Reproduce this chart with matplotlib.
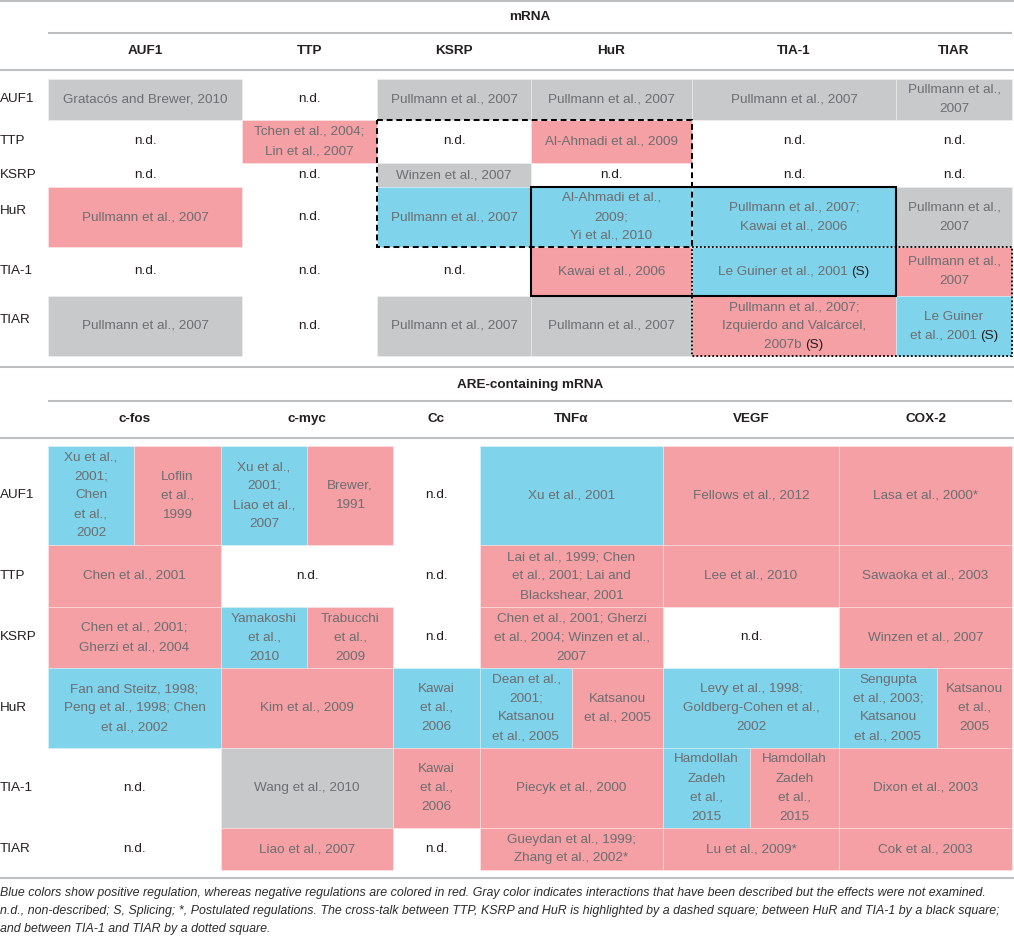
import matplotlib
matplotlib.use('Agg')
import matplotlib.pyplot as plt
from matplotlib.patches import Rectangle

plt.rcParams['font.family'] = ['Liberation Sans', 'DejaVu Sans']

# B = positive regulation, R = negative, G = described but not examined, N = non-described
FILLS = {'B': '#7fd3ea', 'R': '#f5a0a4', 'G': '#c8c9cb', 'N': None}

rbps = ['AUF1', 'TTP', 'KSRP', 'HuR', 'TIA-1', 'TIAR']

# ---- mRNA section ----
mrna_title = 'mRNA'
mrna_cols = ['AUF1', 'TTP', 'KSRP', 'HuR', 'TIA-1', 'TIAR']
mrna_cells = [
    [('Gratacós and Brewer, 2010', 'G'), ('n.d.', 'N'), ('Pullmann et al., 2007', 'G'),
     ('Pullmann et al., 2007', 'G'), ('Pullmann et al., 2007', 'G'), ('Pullmann et al.,\n2007', 'G')],
    [('n.d.', 'N'), ('Tchen et al., 2004;\nLin et al., 2007', 'R'), ('n.d.', 'N'),
     ('Al-Ahmadi et al., 2009', 'R'), ('n.d.', 'N'), ('n.d.', 'N')],
    [('n.d.', 'N'), ('n.d.', 'N'), ('Winzen et al., 2007', 'G'),
     ('n.d.', 'N'), ('n.d.', 'N'), ('n.d.', 'N')],
    [('Pullmann et al., 2007', 'R'), ('n.d.', 'N'), ('Pullmann et al., 2007', 'B'),
     ('Al-Ahmadi et al.,\n2009;\nYi et al., 2010', 'B'), ('Pullmann et al., 2007;\nKawai et al., 2006', 'B'),
     ('Pullmann et al.,\n2007', 'G')],
    [('n.d.', 'N'), ('n.d.', 'N'), ('n.d.', 'N'), ('Kawai et al., 2006', 'R'),
     ('Le Guiner et al., 2001 (S)', 'B'), ('Pullmann et al.,\n2007', 'R')],
    [('Pullmann et al., 2007', 'G'), ('n.d.', 'N'), ('Pullmann et al., 2007', 'G'),
     ('Pullmann et al., 2007', 'G'), ('Pullmann et al., 2007;\nIzquierdo and Valcárcel,\n2007b (S)', 'R'),
     ('Le Guiner\net al., 2001 (S)', 'B')],
]
# highlighted cross-talk squares: (first col, end col, first row, end row, kind)
mrna_boxes = [(3, 5, 3, 5, 'solid'), (2, 4, 1, 4, 'dashed'), (4, 6, 4, 6, 'dotted')]

# ---- ARE-containing mRNA section ----
are_title = 'ARE-containing mRNA'
are_cols = ['c-fos', 'c-myc', 'Cc', 'TNFα', 'VEGF', 'COX-2']
are_col_span = [(0, 2), (2, 4), (4, 5), (5, 7), (7, 9), (9, 11)]
# (first sub-column, end sub-column, text, code)
are_cells = [
    [(0, 1, 'Xu et al.,\n2001;\nChen\net al.,\n2002', 'B'), (1, 2, 'Loflin\net al.,\n1999', 'R'),
     (2, 3, 'Xu et al.,\n2001;\nLiao et al.,\n2007', 'B'), (3, 4, 'Brewer,\n1991', 'R'),
     (4, 5, 'n.d.', 'N'), (5, 7, 'Xu et al., 2001', 'B'), (7, 9, 'Fellows et al., 2012', 'R'),
     (9, 11, 'Lasa et al., 2000*', 'R')],
    [(0, 2, 'Chen et al., 2001', 'R'), (2, 4, 'n.d.', 'N'), (4, 5, 'n.d.', 'N'),
     (5, 7, 'Lai et al., 1999; Chen\net al., 2001; Lai and\nBlackshear, 2001', 'R'),
     (7, 9, 'Lee et al., 2010', 'R'), (9, 11, 'Sawaoka et al., 2003', 'R')],
    [(0, 2, 'Chen et al., 2001;\nGherzi et al., 2004', 'R'), (2, 3, 'Yamakoshi\net al.,\n2010', 'B'),
     (3, 4, 'Trabucchi\net al.,\n2009', 'R'), (4, 5, 'n.d.', 'N'),
     (5, 7, 'Chen et al., 2001; Gherzi\net al., 2004; Winzen et al.,\n2007', 'R'),
     (7, 9, 'n.d.', 'N'), (9, 11, 'Winzen et al., 2007', 'R')],
    [(0, 2, 'Fan and Steitz, 1998;\nPeng et al., 1998; Chen\net al., 2002', 'B'),
     (2, 4, 'Kim et al., 2009', 'R'), (4, 5, 'Kawai\net al.,\n2006', 'B'),
     (5, 6, 'Dean et al.,\n2001;\nKatsanou\net al., 2005', 'B'), (6, 7, 'Katsanou\net al., 2005', 'R'),
     (7, 9, 'Levy et al., 1998;\nGoldberg-Cohen et al.,\n2002', 'B'),
     (9, 10, 'Sengupta\net al., 2003;\nKatsanou\net al., 2005', 'B'), (10, 11, 'Katsanou\net al.,\n2005', 'R')],
    [(0, 2, 'n.d.', 'N'), (2, 4, 'Wang et al., 2010', 'G'), (4, 5, 'Kawai\net al.,\n2006', 'R'),
     (5, 7, 'Piecyk et al., 2000', 'R'), (7, 8, 'Hamdollah\nZadeh\net al.,\n2015', 'B'),
     (8, 9, 'Hamdollah\nZadeh\net al.,\n2015', 'R'), (9, 11, 'Dixon et al., 2003', 'R')],
    [(0, 2, 'n.d.', 'N'), (2, 4, 'Liao et al., 2007', 'R'), (4, 5, 'n.d.', 'N'),
     (5, 7, 'Gueydan et al., 1999;\nZhang et al., 2002*', 'R'), (7, 9, 'Lu et al., 2009*', 'R'),
     (9, 11, 'Cok et al., 2003', 'R')],
]

footnote = [
    'Blue colors show positive regulation, whereas negative regulations are colored in red. '
    'Gray color indicates interactions that have been described but the effects were not examined.',
    'n.d., non-described; S, Splicing; *, Postulated regulations. The cross-talk between TTP, KSRP and HuR '
    'is highlighted by a dashed square; between HuR and TIA-1 by a black square;',
    'and between TIA-1 and TIAR by a dotted square.',
]

# ---- layout (pixels) ----
W, H = 1014, 936
TOP_X = [48, 242, 377, 531, 692, 896, 1012]
TOP_Y = [79, 120, 163, 187, 247, 296, 356]
BOT_X = [48, 134, 221, 307, 393, 480, 572, 663, 750, 839, 937, 1012]
BOT_Y = [446, 545, 607, 668, 748, 828, 870]
LH = 19
FS = 9.7
CITE = '#6d6e71'
DARK = '#231f20'
RULE = '#bcbec0'

fig = plt.figure(figsize=(W / 100, H / 100), dpi=100)
ax = fig.add_axes([0, 0, 1, 1])
ax.set_xlim(0, W)
ax.set_ylim(H, 0)
ax.axis('off')
renderer = fig.canvas.get_renderer()


def cell_text(cx, cy, text, color):
    lines = text.split('\n')
    n = len(lines)
    for i, line in enumerate(lines):
        y = cy + (i - (n - 1) / 2) * LH
        if line.endswith('(S)'):
            tmp = ax.text(cx, y, line, fontsize=FS, ha='center', va='center')
            w = tmp.get_window_extent(renderer).width
            tmp.remove()
            x0 = cx - w / 2
            ax.text(x0, y, line[:-3], fontsize=FS, ha='left', va='center', color=color)
            ax.text(x0 + w, y, '(S)', fontsize=FS, ha='right', va='center', color=DARK)
        else:
            ax.text(cx, y, line, fontsize=FS, ha='center', va='center', color=color)


def cell(x0, x1, y0, y1, text, code):
    if FILLS[code]:
        ax.add_patch(Rectangle((x0, y0), x1 - x0, y1 - y0, facecolor=FILLS[code],
                               edgecolor=(1, 1, 1, 0.35), lw=0.6))
    col = DARK if code == 'N' else CITE
    cell_text((x0 + x1) / 2, (y0 + y1) / 2, text, col)


def rule(y, x0=0, x1=W):
    ax.plot([x0, x1], [y, y], color=RULE, lw=1.5, solid_capstyle='butt')


def row_labels(ys, cap=None):
    for i, name in enumerate(rbps):
        h = (ys[i + 1] - ys[i]) / 2
        if cap is not None:
            h = min(h, cap)
        ax.text(0, ys[i] + h, name, fontsize=FS, ha='left', va='center', color=DARK)


# top section
rule(1)
ax.text((48 + 1012) / 2, 17, mrna_title, fontsize=FS, fontweight='bold', ha='center', va='center', color=DARK)
rule(33, 48, 1012)
for j, name in enumerate(mrna_cols):
    ax.text((TOP_X[j] + TOP_X[j + 1]) / 2, 51, name, fontsize=FS, fontweight='bold',
            ha='center', va='center', color=DARK)
rule(70)
for i, row in enumerate(mrna_cells):
    for j, (text, code) in enumerate(row):
        cell(TOP_X[j], TOP_X[j + 1], TOP_Y[i], TOP_Y[i + 1], text, code)
row_labels(TOP_Y, cap=24)

styles = {'solid': dict(ls='-', lw=1.5), 'dashed': dict(ls=(0, (2.9, 1.9)), lw=1.45),
          'dotted': dict(ls=(0, (1, 1.2)), lw=1.3)}
for c0, c1, r0, r1, kind in mrna_boxes:
    ax.add_patch(Rectangle((TOP_X[c0], TOP_Y[r0]), TOP_X[c1] - TOP_X[c0], TOP_Y[r1] - TOP_Y[r0],
                           fill=False, edgecolor='black', zorder=5, **styles[kind]))

# bottom section
rule(367)
ax.text((48 + 1012) / 2, 385, are_title, fontsize=FS, fontweight='bold', ha='center', va='center', color=DARK)
rule(401, 48, 1012)
for name, (s0, s1) in zip(are_cols, are_col_span):
    ax.text((BOT_X[s0] + BOT_X[s1]) / 2, 419, name, fontsize=FS, fontweight='bold',
            ha='center', va='center', color=DARK)
rule(438)
for i, row in enumerate(are_cells):
    for s0, s1, text, code in row:
        cell(BOT_X[s0], BOT_X[s1], BOT_Y[i], BOT_Y[i + 1], text, code)
row_labels(BOT_Y)
rule(878)

for k, line in enumerate(footnote):
    ax.text(0, 893 + 18 * k, line, fontsize=8.9, style='italic', ha='left', va='center', color='#2b2b2b')

fig.savefig('out.png', dpi=100)
